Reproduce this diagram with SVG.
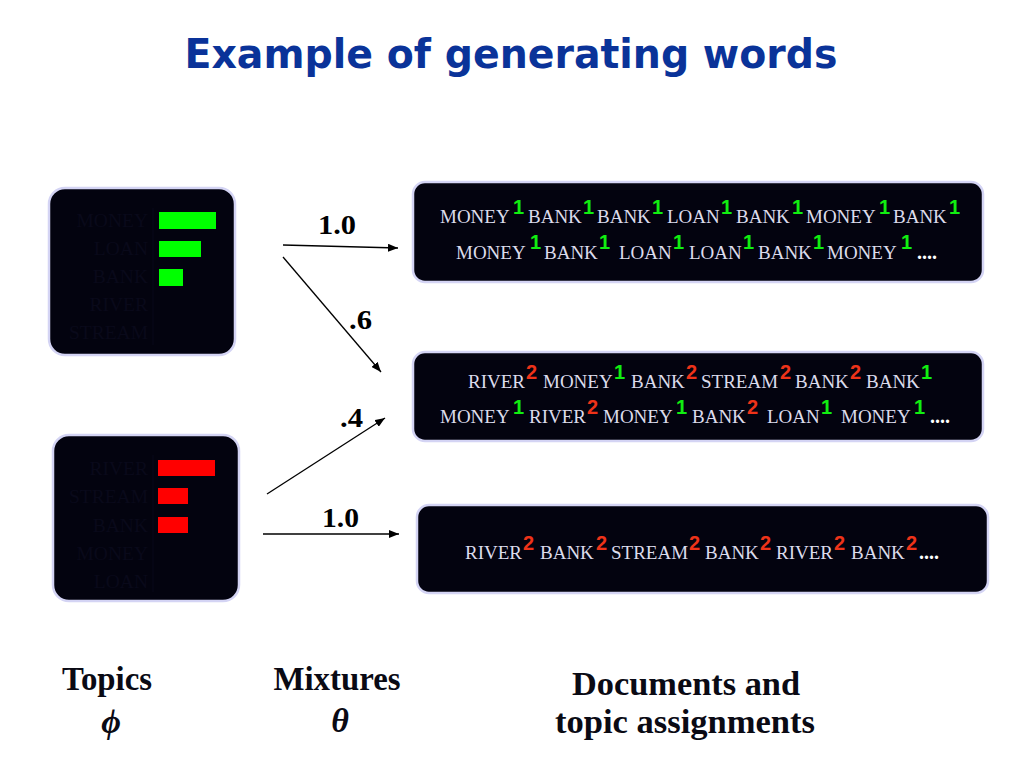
<svg xmlns="http://www.w3.org/2000/svg" width="1024" height="768" viewBox="0 0 1024 768">
<defs>
<marker id="ah" viewBox="0 0 10 8" refX="10" refY="4" markerWidth="10" markerHeight="8" markerUnits="userSpaceOnUse" orient="auto">
<path d="M0,0 L10,4 L0,8 Z" fill="#000"/>
</marker>
</defs>
<style>
.box{fill:#03030f;stroke:#d4d4f4;stroke-width:2.5}
.hid{font-family:"Liberation Serif",serif;font-size:19.5px;fill:#09091a;text-anchor:end}
.w{font-family:"Liberation Serif",serif;font-size:19px;fill:#dcdcec}
.s1{font-family:"Liberation Sans",Arial,sans-serif;font-weight:bold;font-size:20px;fill:#11ee11}
.s2{font-family:"Liberation Sans",Arial,sans-serif;font-weight:bold;font-size:20px;fill:#ee3319}
.dots{font-family:"Liberation Serif",serif;font-weight:bold;font-size:20px;fill:#ffffff}
.lab{font-family:"Liberation Serif",serif;font-weight:bold;font-size:28px;fill:#000}
.cap{font-family:"Liberation Serif",serif;font-weight:bold;font-size:33px;fill:#0a0a14;text-anchor:middle}
.greek{font-family:"Liberation Serif",serif;font-style:italic;font-weight:bold;font-size:34px;fill:#0a0a14;text-anchor:middle}
.conn{stroke:#000;stroke-width:1.3;fill:none;marker-end:url(#ah)}
</style>
<rect width="1024" height="768" fill="#ffffff"/>
<text x="511" y="68" text-anchor="middle" font-family="'DejaVu Sans',Verdana,sans-serif" font-weight="bold" font-size="40" fill="#0a3399" textLength="653" lengthAdjust="spacingAndGlyphs">Example of generating words</text>

<g id="topic1">
<rect class="box" x="49" y="188" width="186" height="167" rx="16"/>
<line x1="153" y1="208" x2="153" y2="345" stroke="#09091a" stroke-width="1"/>
<text class="hid" x="148" y="227">MONEY</text>
<text class="hid" x="148" y="255">LOAN</text>
<text class="hid" x="148" y="283">BANK</text>
<text class="hid" x="148" y="311">RIVER</text>
<text class="hid" x="148" y="339">STREAM</text>
<rect x="159" y="212" width="57" height="17" fill="#00ff00"/>
<rect x="159" y="241" width="42" height="16" fill="#00ff00"/>
<rect x="159" y="269" width="24" height="17" fill="#00ff00"/>
</g>

<g id="topic2">
<rect class="box" x="53" y="435" width="186" height="166" rx="16"/>
<line x1="153" y1="455" x2="153" y2="592" stroke="#09091a" stroke-width="1"/>
<text class="hid" x="148" y="475">RIVER</text>
<text class="hid" x="148" y="503">STREAM</text>
<text class="hid" x="148" y="532">BANK</text>
<text class="hid" x="148" y="560">MONEY</text>
<text class="hid" x="148" y="588">LOAN</text>
<rect x="158" y="460" width="57" height="16" fill="#ff0000"/>
<rect x="158" y="488" width="30" height="16" fill="#ff0000"/>
<rect x="158" y="517" width="30" height="16" fill="#ff0000"/>
</g>

<g id="doc1">
<rect class="box" x="413" y="182" width="570" height="100" rx="12"/>
<text class="w" y="223"><tspan x="440">MONEY</tspan><tspan x="528">BANK</tspan><tspan x="597">BANK</tspan><tspan x="667">LOAN</tspan><tspan x="736">BANK</tspan><tspan x="806">MONEY</tspan><tspan x="893">BANK</tspan></text>
<text class="s1" y="214"><tspan x="513">1</tspan><tspan x="583">1</tspan><tspan x="652">1</tspan><tspan x="721">1</tspan><tspan x="792">1</tspan><tspan x="879">1</tspan><tspan x="949">1</tspan></text>
<text class="w" y="259"><tspan x="456">MONEY</tspan><tspan x="544">BANK</tspan><tspan x="619">LOAN</tspan><tspan x="689">LOAN</tspan><tspan x="758">BANK</tspan><tspan x="827">MONEY</tspan></text>
<text class="s1" y="249"><tspan x="530">1</tspan><tspan x="599">1</tspan><tspan x="673">1</tspan><tspan x="743">1</tspan><tspan x="813">1</tspan><tspan x="901">1</tspan></text>
<text class="dots" x="917" y="259">....</text>
</g>

<g id="doc2">
<rect class="box" x="413" y="352" width="570" height="89" rx="12"/>
<text class="w" y="388"><tspan x="468">RIVER</tspan><tspan x="543">MONEY</tspan><tspan x="631">BANK</tspan><tspan x="701">STREAM</tspan><tspan x="795">BANK</tspan><tspan x="866">BANK</tspan></text>
<text class="s2" y="379"><tspan x="526">2</tspan></text>
<text class="s1" y="379"><tspan x="614">1</tspan></text>
<text class="s2" y="379"><tspan x="686">2</tspan><tspan x="780">2</tspan><tspan x="850">2</tspan></text>
<text class="s1" y="379"><tspan x="921">1</tspan></text>
<text class="w" y="423"><tspan x="440">MONEY</tspan><tspan x="529">RIVER</tspan><tspan x="603">MONEY</tspan><tspan x="692">BANK</tspan><tspan x="767">LOAN</tspan><tspan x="841">MONEY</tspan></text>
<text class="s1" y="414"><tspan x="513">1</tspan></text>
<text class="s2" y="414"><tspan x="587">2</tspan></text>
<text class="s1" y="414"><tspan x="676">1</tspan></text>
<text class="s2" y="414"><tspan x="747">2</tspan></text>
<text class="s1" y="414"><tspan x="821">1</tspan><tspan x="914">1</tspan></text>
<text class="dots" x="930" y="423">....</text>
</g>

<g id="doc3">
<rect class="box" x="417" y="505" width="571" height="88" rx="12"/>
<text class="w" y="559"><tspan x="465">RIVER</tspan><tspan x="540">BANK</tspan><tspan x="611">STREAM</tspan><tspan x="705">BANK</tspan><tspan x="776">RIVER</tspan><tspan x="851">BANK</tspan></text>
<text class="s2" y="550"><tspan x="523">2</tspan><tspan x="596">2</tspan><tspan x="689">2</tspan><tspan x="760">2</tspan><tspan x="834">2</tspan><tspan x="906">2</tspan></text>
<text class="dots" x="919" y="559">....</text>
</g>

<g id="connectors">
<line class="conn" x1="283" y1="245" x2="398" y2="248"/>
<line class="conn" x1="283" y1="257" x2="381" y2="372"/>
<line class="conn" x1="267" y1="494" x2="385" y2="418"/>
<line class="conn" x1="263" y1="534" x2="399" y2="534"/>
<text class="lab" x="318" y="234" textLength="38" lengthAdjust="spacingAndGlyphs">1.0</text>
<text class="lab" x="349" y="329" textLength="23" lengthAdjust="spacingAndGlyphs">.6</text>
<text class="lab" x="340" y="427" textLength="23" lengthAdjust="spacingAndGlyphs">.4</text>
<text class="lab" x="322" y="527" textLength="37" lengthAdjust="spacingAndGlyphs">1.0</text>
</g>

<g id="captions">
<text class="cap" x="107" y="690" textLength="90" lengthAdjust="spacingAndGlyphs">Topics</text>
<text class="greek" x="111" y="733">ϕ</text>
<text class="cap" x="337" y="690" textLength="127" lengthAdjust="spacingAndGlyphs">Mixtures</text>
<text class="greek" x="340" y="732">θ</text>
<text class="cap" x="686" y="695" textLength="228" lengthAdjust="spacingAndGlyphs">Documents and</text>
<text class="cap" x="685" y="733" textLength="260" lengthAdjust="spacingAndGlyphs">topic assignments</text>
</g>
</svg>
